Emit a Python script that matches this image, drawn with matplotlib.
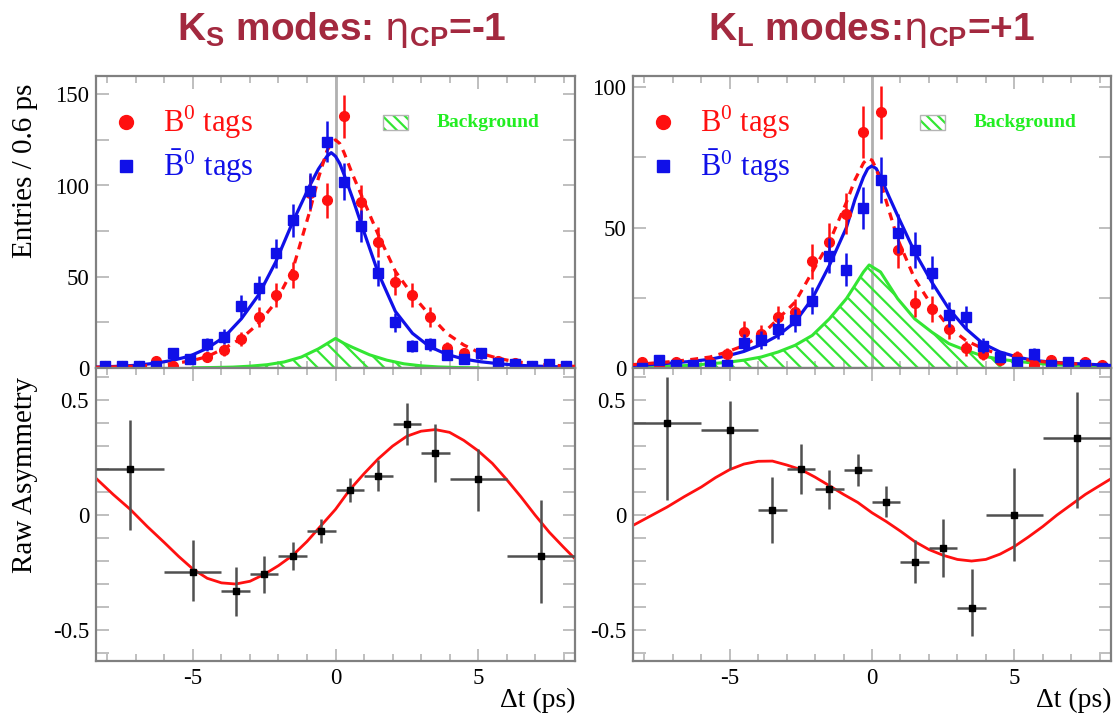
import numpy as np
import matplotlib
matplotlib.use('Agg')
import matplotlib.pyplot as plt
from matplotlib import font_manager
from matplotlib.patches import Rectangle
from matplotlib.ticker import MultipleLocator, FuncFormatter

# ---- data ----
bin_centres = [-8.1, -7.5, -6.9, -6.3, -5.7, -5.1, -4.5, -3.9, -3.3, -2.7, -2.1, -1.5, -0.9, -0.3,
               0.3, 0.9, 1.5, 2.1, 2.7, 3.3, 3.9, 4.5, 5.1, 5.7, 6.3, 6.9, 7.5, 8.1]

ks_b0 = [1, 1, 1, 4, 1, 5, 6, 10, 16, 28, 40, 51, 96, 92,
         138, 91, 69, 47, 40, 28, 11, 8, 8, 4, 3, 1, 1, 1]
ks_b0bar = [1, 1, 1, 1, 8, 5, 13, 17, 34, 44, 63, 81, 97, 124,
            102, 78, 52, 25, 12, 13, 7, 5, 8, 3, 2, 1, 2, 1]
kl_b0 = [2, 1, 2, 1, 2, 5, 13, 12, 18, 20, 38, 45, 55, 84,
         91, 42, 23, 21, 14, 7, 5, 3, 4, 1, 3, 1, 2, 1]
kl_b0bar = [0, 3, 1, 1, 1, 1, 9, 10, 14, 17, 24, 40, 35, 57,
            67, 48, 42, 34, 19, 18, 8, 4, 2, 5, 1, 2, 1, 0]

fit_t = [-8.4, -7.5, -6.9, -6.3, -5.7, -5.1, -4.5, -3.9, -3.3, -2.7, -2.1, -1.5, -0.9, -0.6, -0.3, -0.15,
         0.0, 0.15, 0.3, 0.6, 0.9, 1.5, 2.1, 2.7, 3.3, 3.9, 4.5, 5.1, 5.7, 6.3, 6.9, 7.5, 8.4]
ks_fit_b0 = [0.4, 0.7, 1.1, 1.6, 2.4, 3.8, 6.2, 10.8, 16.2, 24.4, 36, 54, 86, 104, 119, 123,
             125, 123, 118, 106, 95, 73, 53, 40, 29, 19, 12.6, 8, 5.3, 3.5, 2.4, 1.6, 0.9]
ks_fit_b0bar = [0.5, 1.0, 1.6, 2.7, 4.2, 6.6, 10.8, 17, 27, 40, 58, 80, 100, 109, 116, 118,
                116, 112, 106, 93, 79, 52, 31, 19, 11.7, 7.5, 4.9, 3.4, 2.4, 1.6, 1.1, 0.8, 0.5]
kl_fit_b0 = [1.2, 1.9, 2.4, 3.1, 3.9, 5.7, 8, 11.6, 17.5, 23.5, 34.2, 44.8, 59, 67, 73, 74.7,
             74, 71, 66.2, 56, 46, 31.8, 22.3, 14.6, 9.8, 6.9, 4.7, 3.5, 2.5, 2.0, 1.6, 1.3, 0.9]
kl_fit_b0bar = [0.9, 1.4, 1.9, 2.4, 3.1, 4.3, 5.9, 8.3, 11.6, 16.4, 24.7, 36.5, 50, 60, 68, 71,
                72, 71, 68, 61, 54.3, 41.3, 30.6, 21.1, 14, 8.7, 5.7, 3.9, 2.7, 2.1, 1.7, 1.4, 0.9]

ks_bkg_t = [-5.0, -4.2, -3.6, -3.0, -2.4, -1.8, -1.2, -0.6, 0.0, 0.3, 0.6, 1.2, 1.8, 2.4, 3.0, 3.6, 4.2, 5.0]
ks_bkg = [0.1, 0.3, 0.5, 1.0, 1.8, 3.3, 6.0, 10.5, 16.2, 13.5, 11.3, 7.2, 4.3, 2.3, 1.2, 0.6, 0.3, 0.1]
kl_bkg_t = [-8.1, -6.9, -6.3, -5.7, -5.1, -4.5, -3.9, -3.3, -2.7, -2.1, -1.5, -0.9, -0.6, -0.3,
            -0.1, 0.3, 0.9, 1.5, 2.1, 2.7, 3.3, 3.9, 4.5, 5.1, 5.7, 6.3, 7.5, 8.4]
kl_bkg = [0.3, 0.7, 1.0, 1.5, 2.0, 2.8, 3.9, 5.7, 8.1, 11.6, 17.5, 24.7, 29.4, 34.2,
          36.7, 34.2, 24.7, 17.5, 12.8, 8.7, 6.3, 4.3, 3.1, 2.4, 1.7, 1.2, 0.7, 0.4]

asym_t = [-7.2, -5.0, -3.5, -2.5, -1.5, -0.5, 0.5, 1.5, 2.5, 3.5, 5.0, 7.2]
asym_dt = [1.2, 1.0, 0.5, 0.5, 0.5, 0.5, 0.5, 0.5, 0.5, 0.5, 1.0, 1.2]
ks_asym = [0.199, -0.248, -0.330, -0.258, -0.178, -0.068, 0.108, 0.171, 0.397, 0.271, 0.159, -0.176]
ks_asym_lo = [0.262, 0.128, 0.110, 0.083, 0.062, 0.054, 0.050, 0.068, 0.092, 0.128, 0.141, 0.205]
ks_asym_hi = [0.213, 0.140, 0.104, 0.081, 0.060, 0.049, 0.053, 0.068, 0.090, 0.127, 0.127, 0.241]
kl_asym = [0.401, 0.369, 0.022, 0.202, 0.114, 0.196, 0.059, -0.204, -0.145, -0.403, 0.0, 0.335]
kl_asym_lo = [0.335, 0.167, 0.142, 0.111, 0.086, 0.071, 0.066, 0.091, 0.125, 0.125, 0.200, 0.303]
kl_asym_hi = [0.200, 0.128, 0.143, 0.108, 0.084, 0.068, 0.066, 0.096, 0.126, 0.170, 0.205, 0.200]

curve_t = [-8.4, -7.8, -7.2, -6.6, -6.0, -5.5, -5.0, -4.5, -4.0, -3.5, -3.0, -2.5, -2.0, -1.5, -1.0, -0.5,
           0.0, 0.5, 1.0, 1.5, 2.0, 2.5, 3.0, 3.5, 4.0, 4.5, 5.0, 5.5, 6.0, 6.5, 7.0, 7.5, 8.0, 8.4]
ks_curve = [0.16, 0.09, 0.025, -0.05, -0.12, -0.18, -0.235, -0.275, -0.295, -0.30, -0.288, -0.258, -0.22,
            -0.175, -0.115, -0.045, 0.025, 0.11, 0.18, 0.245, 0.30, 0.343, 0.365, 0.372, 0.36, 0.325,
            0.28, 0.225, 0.155, 0.08, 0.0, -0.075, -0.14, -0.19]
kl_curve = [-0.045, -0.005, 0.035, 0.08, 0.122, 0.163, 0.198, 0.222, 0.234, 0.235, 0.218, 0.198, 0.165,
            0.128, 0.09, 0.055, 0.01, -0.028, -0.07, -0.115, -0.15, -0.175, -0.193, -0.2, -0.193, -0.17,
            -0.137, -0.095, -0.05, 0.0, 0.045, 0.09, 0.128, 0.158]

# ---- fonts ----
names = {f.name for f in font_manager.fontManager.ttflist}
title_font = 'Liberation Sans Narrow' if 'Liberation Sans Narrow' in names else 'Liberation Sans'
plt.rcParams['font.family'] = ['Liberation Serif', 'DejaVu Serif']
plt.rcParams['axes.unicode_minus'] = False
plt.rcParams['hatch.linewidth'] = 1.6
plt.rcParams['hatch.color'] = '#33e633'

RED = '#ff1010'
BLUE = '#1010e8'
GREEN = '#33e633'
FRAME = '#808080'
TICK = '#b4b4b4'

fig = plt.figure(figsize=(11.13, 7.18), dpi=100)

W, H = 1113, 718
def box(x0, x1, y0, y1):
    return [x0 / W, 1 - y1 / H, (x1 - x0) / W, (y1 - y0) / H]

ax_ks = fig.add_axes(box(96, 575, 76, 368))
ax_ks_a = fig.add_axes(box(96, 575, 368, 661))
ax_kl = fig.add_axes(box(633, 1111, 76, 368))
ax_kl_a = fig.add_axes(box(633, 1111, 368, 661))

def frame(ax, ymajor, yminor):
    for s in ax.spines.values():
        s.set_color(FRAME)
        s.set_linewidth(1.6)
    ax.set_xlim(-8.4, 8.4)
    ax.xaxis.set_major_locator(MultipleLocator(5))
    ax.xaxis.set_minor_locator(MultipleLocator(1))
    ax.yaxis.set_major_locator(MultipleLocator(ymajor))
    ax.yaxis.set_minor_locator(MultipleLocator(yminor))
    ax.tick_params(which='both', direction='in', top=True, right=True,
                   color=TICK, width=1.2, labelsize=16.5, pad=5)
    ax.tick_params(axis='x', which='major', length=9)
    ax.tick_params(axis='x', which='minor', length=5)
    ax.tick_params(axis='y', which='both', length=9)
    ax.yaxis.set_major_formatter(FuncFormatter(lambda v, p: '0' if abs(v) < 1e-9 else '%g' % v))

def top_panel(ax, red, blue, fit_red, fit_blue, bkg_t, bkg, ymax):
    frame(ax, 50, 25)
    ax.set_ylim(0, ymax)
    ax.tick_params(labelbottom=False)
    ax.axvline(0, color='#b0b0b0', lw=2, zorder=1)
    ax.fill_between(bkg_t, 0, bkg, facecolor='none', edgecolor=GREEN, hatch='\\\\', lw=0, zorder=2)
    ax.plot(bkg_t, bkg, color=GREEN, lw=2.2, zorder=2)
    ax.plot(fit_t, fit_blue, color=BLUE, lw=2.3, zorder=3)
    ax.plot(fit_t, fit_red, color=RED, lw=2.3, ls=(0, (2.5, 2)), zorder=3)
    ax.errorbar(bin_centres, red, yerr=np.sqrt(red), fmt='o', color=RED, ms=7,
                elinewidth=1.8, capsize=0, zorder=4)
    ax.errorbar(bin_centres, blue, yerr=np.sqrt(blue), fmt='s', color=BLUE, ms=7,
                elinewidth=1.8, capsize=0, zorder=5)
    # legend
    ax.plot([0.062], [0.842], 'o', color=RED, ms=10, transform=ax.transAxes, clip_on=False)
    ax.plot([0.062], [0.692], 's', color=BLUE, ms=9, transform=ax.transAxes, clip_on=False)
    ax.text(0.14, 0.842, r'B$^\mathregular{0}$ tags', color=RED, fontsize=22,
            va='center', transform=ax.transAxes)
    ax.text(0.14, 0.692, r'$\bar{\mathregular{B}}^\mathregular{0}$ tags', color=BLUE, fontsize=22,
            va='center', transform=ax.transAxes, math_fontfamily='stix')
    ax.add_patch(Rectangle((0.60, 0.815), 0.052, 0.052, transform=ax.transAxes,
                           facecolor='none', edgecolor=GREEN, hatch='\\\\\\', lw=0))
    ax.add_patch(Rectangle((0.60, 0.815), 0.052, 0.052, transform=ax.transAxes,
                           facecolor='none', edgecolor='#b4b4b4', lw=1))
    ax.text(0.712, 0.842, 'Background', color='#22ee22', fontsize=14, fontweight='bold',
            va='center', transform=ax.transAxes)

def bottom_panel(ax, val, lo, hi, curve):
    frame(ax, 0.5, 0.1)
    ax.set_ylim(-0.635, 0.64)
    ax.plot(curve_t, curve, color=RED, lw=2, zorder=2)
    ax.errorbar(asym_t, val, xerr=asym_dt, yerr=[lo, hi], fmt='s', color='black', ms=4,
                ecolor='#505050', elinewidth=1.8, capsize=0, zorder=3)
    ax.set_xlabel('\u0394t (ps)', loc='right', fontsize=20, labelpad=-1)

top_panel(ax_ks, ks_b0, ks_b0bar, ks_fit_b0, ks_fit_b0bar, ks_bkg_t, ks_bkg, 160)
top_panel(ax_kl, kl_b0, kl_b0bar, kl_fit_b0, kl_fit_b0bar, kl_bkg_t, kl_bkg, 104)
bottom_panel(ax_ks_a, ks_asym, ks_asym_lo, ks_asym_hi, ks_curve)
bottom_panel(ax_kl_a, kl_asym, kl_asym_lo, kl_asym_hi, kl_curve)

fig.text(25 / W, 1 - 171 / H, 'Entries / 0.6 ps', rotation=90, fontsize=21, ha='center', va='center')
fig.text(25 / W, 1 - 475 / H, 'Raw Asymmetry', rotation=90, fontsize=21, ha='center', va='center')

TITLE = '#a3293f'
eta = r'$\mathrm{\eta}$'
fig.text(342 / W, 1 - 30 / H, r'K$_\mathregular{S}$ modes: ' + eta + r'$_\mathregular{CP}$=-1',
         color=TITLE, fontsize=28, fontweight='bold', family=title_font, ha='center', va='center',
         math_fontfamily='dejavusans')
fig.text(872 / W, 1 - 30 / H, r'K$_\mathregular{L}$ modes:' + eta + r'$_\mathregular{CP}$=+1',
         color=TITLE, fontsize=28, fontweight='bold', family=title_font, ha='center', va='center',
         math_fontfamily='dejavusans')

fig.savefig('out.png', dpi=100)
